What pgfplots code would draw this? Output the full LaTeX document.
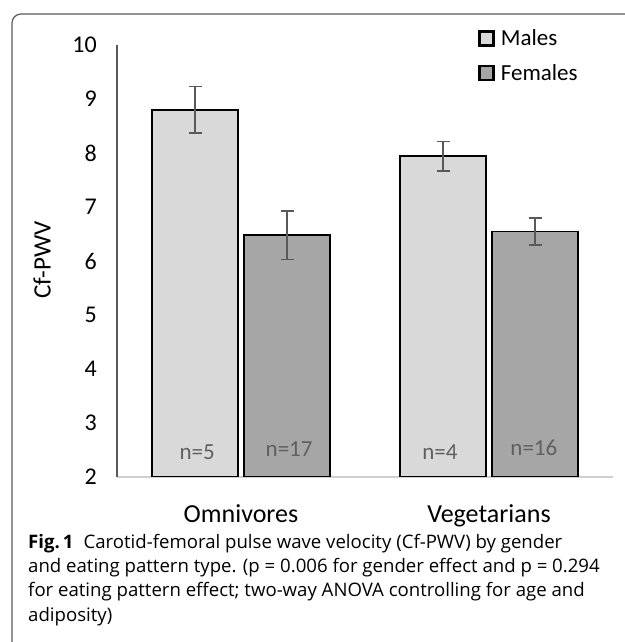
\documentclass[border=0pt]{standalone}
\usepackage{pgfplots}
\pgfplotsset{compat=1.18}
\usepackage{fontspec}
\setmainfont{Carlito}
\newfontfamily\capfont{Open Sans}
\definecolor{malefill}{HTML}{D9D9D9}
\definecolor{femalefill}{HTML}{A6A6A6}
\definecolor{errgray}{HTML}{595959}
\definecolor{axgray}{HTML}{595959}
\definecolor{xaxgray}{HTML}{D0D0D0}
\definecolor{framegray}{HTML}{5A5A5A}
\definecolor{ngray}{HTML}{606060}
\pgfplotsset{
  sqlegend/.style={legend image code/.code={\draw[##1, draw=black, line width=2.6bp] (0bp,-7bp) rectangle (14bp,7bp);}},
}
\begin{document}
\begin{tikzpicture}
\useasboundingbox (0bp,0bp) rectangle (625bp,642bp);
\clip (0bp,0bp) rectangle (625bp,642bp);
\draw[framegray, line width=1.2bp, rounded corners=9bp] (12bp,-10bp) -- (12bp,628bp) -- (640bp,628bp);
\begin{axis}[
  at={(117bp,165bp)}, anchor=south west,
  scale only axis, width=496bp, height=432bp,
  xmin=-0.5, xmax=1.5, ymin=2, ymax=10,
  ybar=6bp, bar width=86bp,
  axis x line*=bottom, axis y line*=left,
  x axis line style={xaxgray, line width=1.5bp},
  y axis line style={axgray, line width=1.3bp},
  tick style={draw=none},
  xtick={0,1}, xticklabels={Omnivores,Vegetarians},
  ytick={2,3,4,5,6,7,8,9,10},
  /pgf/number format/assume math mode=true,
  yticklabel style={font=\fontsize{24bp}{28bp}\selectfont, anchor=east, inner sep=0pt, xshift=-20bp},
  xticklabel style={font=\fontsize{26bp}{30bp}\selectfont, anchor=base, inner sep=0pt, yshift=-41bp},
  ylabel={Cf-PWV},
  every axis y label/.style={at={(rel axis cs:-0.151,0.502)}, rotate=90, anchor=center, font=\fontsize{25bp}{29bp}\selectfont},
  legend style={at={(rel axis cs:0.728,1.04)}, anchor=north west, draw=none, fill=none,
    font=\fontsize{23bp}{27bp}\selectfont, row sep=13bp, inner sep=0pt, cells={anchor=west},
    /tikz/every odd column/.append style={column sep=4bp}},
  clip=true,
]
\addplot[sqlegend, fill=malefill, draw=black, line width=1.5bp,
  error bars/.cd, y dir=both, y explicit,
  error bar style={errgray, line width=1.5bp},
  error mark options={errgray, rotate=90, mark size=6.5bp, line width=1.5bp}]
  coordinates {(0,8.80) +- (0,0.43) (1,7.94) +- (0,0.27)};
\addplot[sqlegend, fill=femalefill, draw=black, line width=1.5bp,
  error bars/.cd, y dir=both, y explicit,
  error bar style={errgray, line width=1.5bp},
  error mark options={errgray, rotate=90, mark size=6.5bp, line width=1.5bp}]
  coordinates {(0,6.48) +- (0,0.45) (1,6.55) +- (0,0.25)};
\legend{Males,Females}
\node[ngray, font=\fontsize{23bp}{27bp}\selectfont] at (axis cs:-0.177,2.463) {n=5};
\node[ngray, font=\fontsize{23bp}{27bp}\selectfont] at (axis cs:0.194,2.52) {n=17};
\node[ngray, font=\fontsize{23bp}{27bp}\selectfont] at (axis cs:0.802,2.463) {n=4};
\node[ngray, font=\fontsize{23bp}{27bp}\selectfont] at (axis cs:1.181,2.54) {n=16};
\end{axis}
\begin{scope}[every node/.style={anchor=base west, inner sep=0pt, font=\capfont\fontsize{18.6bp}{24bp}\selectfont}]
\node at (28bp,93bp) {\textbf{Fig.\,1}\hspace{10bp}Carotid-femoral pulse wave velocity (Cf-PWV) by gender};
\node at (28bp,69bp) {and eating pattern type. (p = 0.006 for gender effect and p = 0.294};
\node at (28bp,45bp) {for eating pattern effect; two-way ANOVA controlling for age and};
\node at (28bp,21bp) {adiposity)};
\end{scope}
\end{tikzpicture}
\end{document}
